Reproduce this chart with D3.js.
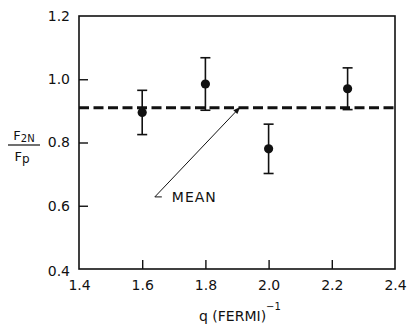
<!DOCTYPE html>
<html>
<head>
<script src="https://d3js.org/d3.v7.min.js"></script>
<style>
body { margin: 0; background: #fff; }
text { font-family: "DejaVu Sans", sans-serif; fill: #111; }
</style>
</head>
<body>
<script>
// data
var qValues = [1.6, 1.8, 2.0, 2.25];
var ratios = [0.895, 0.985, 0.78, 0.97];
var errors = [0.07, 0.083, 0.078, 0.066];
var meanValue = 0.91;
var xTicks = [1.4, 1.6, 1.8, 2.0, 2.2, 2.4];
var yTicks = [0.4, 0.6, 0.8, 1.0, 1.2];
var arrowFrom = [1.64, 0.628];
var arrowTo = [1.91, 0.912];

var W = 408, H = 324;
var margin = {left: 79, top: 16, right: 13, bottom: 55};

var svg = d3.select("body").append("svg")
    .attr("width", W)
    .attr("height", H);

var x = d3.scaleLinear().domain([1.4, 2.4]).range([margin.left, W - margin.right]);
var y = d3.scaleLinear().domain([0.4, 1.2]).range([H - margin.bottom, margin.top]);

// frame
svg.append("rect")
    .attr("x", x(1.4)).attr("y", y(1.2))
    .attr("width", x(2.4) - x(1.4))
    .attr("height", y(0.4) - y(1.2))
    .style("fill", "none")
    .style("stroke", "#111")
    .style("stroke-width", 1.6);

// axes, ticks pointing inward
var xAxis = svg.append("g")
    .attr("transform", "translate(0," + y(0.4) + ")")
    .call(d3.axisBottom(x).tickValues(xTicks).tickSize(-9).tickPadding(11)
        .tickFormat(d3.format(".1f")));
var yAxis = svg.append("g")
    .attr("transform", "translate(" + x(1.4) + ",0)")
    .call(d3.axisLeft(y).tickValues(yTicks).tickSize(-9).tickPadding(9)
        .tickFormat(d3.format(".1f")));

[xAxis, yAxis].forEach(function(g) {
    g.select(".domain").remove();
    g.selectAll("line").style("stroke", "#111").style("stroke-width", 1.4);
    g.selectAll("text").style("font-size", "14px").style("fill", "#111");
});
// end ticks sit on the frame
xAxis.selectAll(".tick line").filter(function(d) { return d == 1.4 || d == 2.4; }).remove();
yAxis.selectAll(".tick line").filter(function(d) { return d == 0.4 || d == 1.2; }).remove();
yAxis.selectAll(".tick text").filter(function(d) { return d == 0.4; })
    .attr("dy", "0.45em");

// mean line
svg.append("line")
    .attr("x1", x(1.4)).attr("x2", x(2.4))
    .attr("y1", y(meanValue)).attr("y2", y(meanValue))
    .style("stroke", "#111")
    .style("stroke-width", 3)
    .style("stroke-dasharray", "10,4.5");

// error bars
var pts = qValues.map(function(q, i) { return {q: q, v: ratios[i], e: errors[i]}; });
var bars = svg.selectAll(".bar").data(pts).enter().append("g").attr("class", "bar");
bars.append("line")
    .attr("x1", function(d) { return x(d.q); })
    .attr("x2", function(d) { return x(d.q); })
    .attr("y1", function(d) { return y(d.v + d.e); })
    .attr("y2", function(d) { return y(d.v - d.e); })
    .style("stroke", "#111").style("stroke-width", 1.6);
[1, -1].forEach(function(s) {
    bars.append("line")
        .attr("x1", function(d) { return x(d.q) - 5; })
        .attr("x2", function(d) { return x(d.q) + 5; })
        .attr("y1", function(d) { return y(d.v + s * d.e); })
        .attr("y2", function(d) { return y(d.v + s * d.e); })
        .style("stroke", "#111").style("stroke-width", 1.6);
});
bars.append("circle")
    .attr("cx", function(d) { return x(d.q); })
    .attr("cy", function(d) { return y(d.v); })
    .attr("r", 4.6)
    .style("fill", "#111");

// arrow to the mean line
svg.append("defs").append("marker")
    .attr("id", "head")
    .attr("viewBox", "0 0 10 10")
    .attr("refX", 10).attr("refY", 5)
    .attr("markerWidth", 9).attr("markerHeight", 7)
    .attr("markerUnits", "userSpaceOnUse")
    .attr("orient", "auto")
    .append("path").attr("d", "M0,1 L10,5 L0,9 Z").style("fill", "#111");

var ax0 = x(arrowFrom[0]), ay0 = y(arrowFrom[1]);
svg.append("line")
    .attr("x1", ax0).attr("y1", ay0)
    .attr("x2", x(arrowTo[0])).attr("y2", y(arrowTo[1]))
    .attr("marker-end", "url(#head)")
    .style("stroke", "#111").style("stroke-width", 1);
svg.append("line")
    .attr("x1", ax0).attr("y1", ay0)
    .attr("x2", ax0 + 7).attr("y2", ay0)
    .style("stroke", "#111").style("stroke-width", 1);
svg.append("text")
    .attr("x", ax0 + 17).attr("y", ay0 + 5)
    .style("font-size", "14px")
    .style("letter-spacing", "1px")
    .text("MEAN");

// x axis title
var xt = svg.append("text")
    .attr("x", 199).attr("y", 321)
    .style("font-size", "14px");
xt.append("tspan").text("q (FERMI)");
xt.append("tspan").attr("dy", -11).style("font-size", "10px").text("−1");

// y axis title as a fraction
var yl = svg.append("g").attr("transform", "translate(24,0)");
var num = yl.append("text").attr("x", 0).attr("y", 140)
    .attr("text-anchor", "middle").style("font-size", "13px");
num.append("tspan").text("F");
num.append("tspan").attr("dy", 2).style("font-size", "10px").text("2N");
yl.append("line")
    .attr("x1", -16).attr("x2", 16)
    .attr("y1", 145).attr("y2", 145)
    .style("stroke", "#111").style("stroke-width", 1.2);
var den = yl.append("text").attr("x", -2).attr("y", 161)
    .attr("text-anchor", "middle").style("font-size", "13px");
den.append("tspan").text("F");
den.append("tspan").attr("dy", 2).style("font-size", "12px").text("p");
</script>
</body>
</html>
